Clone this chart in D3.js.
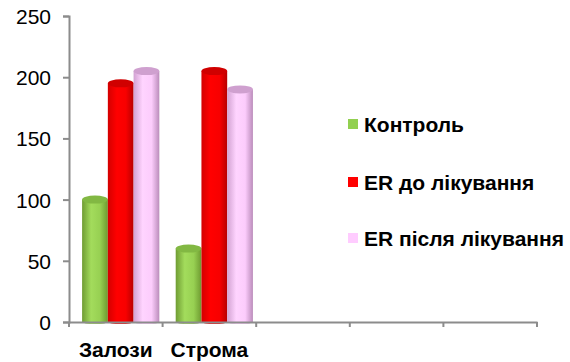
<!DOCTYPE html>
<html>
<head>
<meta charset="utf-8">
<script src="https://cdn.jsdelivr.net/npm/d3@7/dist/d3.min.js"></script>
<style>
  html, body { margin: 0; padding: 0; background: #fff; }
  svg { display: block; }
  text { font-family: Arial, "Liberation Sans", sans-serif; fill: #000; }
</style>
</head>
<body>
<svg id="chart" width="570" height="362"></svg>
<script>
// Category slots on the x axis (the last three are empty)
const categories = ["Залози", "Строма", "", "", ""];
// Series
const seriesNames = ["Контроль", "ER до лікування", "ER після лікування"];
const kontrol   = [100, 60, null, null, null];
const erBefore  = [195, 205, null, null, null];
const erAfter   = [205, 190, null, null, null];
const yTicks = [0, 50, 100, 150, 200, 250];

const series = [
  { name: seriesNames[0], values: kontrol,  stops: ["#6f9c33", "#a3dc5c", "#97d052", "#6e9a30"], top: "#82b843", key: "#92d050" },
  { name: seriesNames[1], values: erBefore, stops: ["#d40000", "#ff0000", "#f80000", "#b80000"], top: "#d00000", key: "#ff0000" },
  { name: seriesNames[2], values: erAfter,  stops: ["#d2a2d2", "#ffd4ff", "#fcccfc", "#bb8cbb"], top: "#cfa0cf", key: "#ffccff" }
];

const svg = d3.select("#chart");
const plot = { left: 69, right: 537, top: 16, bottom: 322 };
const fontFamily = "Arial, 'Liberation Sans', sans-serif";
const fontSize = 21;

const x = d3.scaleBand().domain(d3.range(categories.length)).range([plot.left, plot.right]);
const y = d3.scaleLinear().domain([0, 250]).range([plot.bottom, plot.top]);

// Gradients for cylinder bodies
const defs = svg.append("defs");
series.forEach((s, i) => {
  const g = defs.append("linearGradient").attr("id", "cyl" + i)
    .attr("x1", "0%").attr("x2", "100%").attr("y1", "0%").attr("y2", "0%");
  [0, 0.35, 0.7, 1].forEach((o, k) => g.append("stop").attr("offset", o).attr("stop-color", s.stops[k]));
});

// Axes
const axisColor = "#8c8c8c";
const yAxis = svg.append("g").attr("transform", `translate(${plot.left},0)`)
  .call(d3.axisLeft(y).tickValues(yTicks).tickSize(6).tickPadding(12));
yAxis.select(".domain").attr("stroke", axisColor).attr("stroke-width", 2);
yAxis.selectAll(".tick line").attr("stroke", axisColor).attr("stroke-width", 2);
yAxis.selectAll(".tick text").attr("font-size", fontSize).attr("font-family", fontFamily).attr("dy", "0.36em");

// Cylinders
const barW = x.bandwidth() * 0.275;
const barOffset = x.bandwidth() * 0.14;
const ry = 4;
categories.forEach((c, ci) => {
  series.forEach((s, si) => {
    const v = s.values[ci];
    if (v == null) return;
    const x0 = x(ci) + barOffset + si * barW;
    const yt = y(v), yb = y(0);
    const g = svg.append("g");
    g.append("path")
      .attr("d", `M${x0},${yt} L${x0},${yb} A${barW / 2},${ry / 2} 0 0 0 ${x0 + barW},${yb} L${x0 + barW},${yt} Z`)
      .attr("fill", `url(#cyl${si})`);
    g.append("ellipse")
      .attr("cx", x0 + barW / 2).attr("cy", yt)
      .attr("rx", barW / 2).attr("ry", ry)
      .attr("fill", s.top);
  });
});

const xAxis = svg.append("g").attr("transform", `translate(0,${plot.bottom})`)
  .call(d3.axisBottom(x).tickSize(0).tickFormat(i => categories[i]));
xAxis.select(".domain").attr("stroke", axisColor).attr("stroke-width", 2);
xAxis.selectAll(".tick text")
  .attr("font-size", fontSize).attr("font-weight", "bold")
  .attr("font-family", fontFamily)
  .attr("dy", 0).attr("y", 35);
// Tick marks at band boundaries
const bounds = d3.range(categories.length + 1).map(i => i < categories.length ? x(i) : plot.right);
xAxis.selectAll(".bound").data(bounds).enter().append("line")
  .attr("x1", d => d).attr("x2", d => d).attr("y1", 0).attr("y2", 5)
  .attr("stroke", axisColor).attr("stroke-width", 2);

// Legend
const legend = svg.append("g").attr("transform", "translate(348,0)");
const legendY = [124, 182, 238];
series.forEach((s, i) => {
  legend.append("rect").attr("x", 0).attr("y", legendY[i] - 5).attr("width", 10).attr("height", 10).attr("fill", s.key);
  legend.append("text").attr("x", 16).attr("y", legendY[i] + 8)
    .attr("font-size", fontSize).attr("font-weight", "bold").text(s.name);
});
</script>
</body>
</html>
